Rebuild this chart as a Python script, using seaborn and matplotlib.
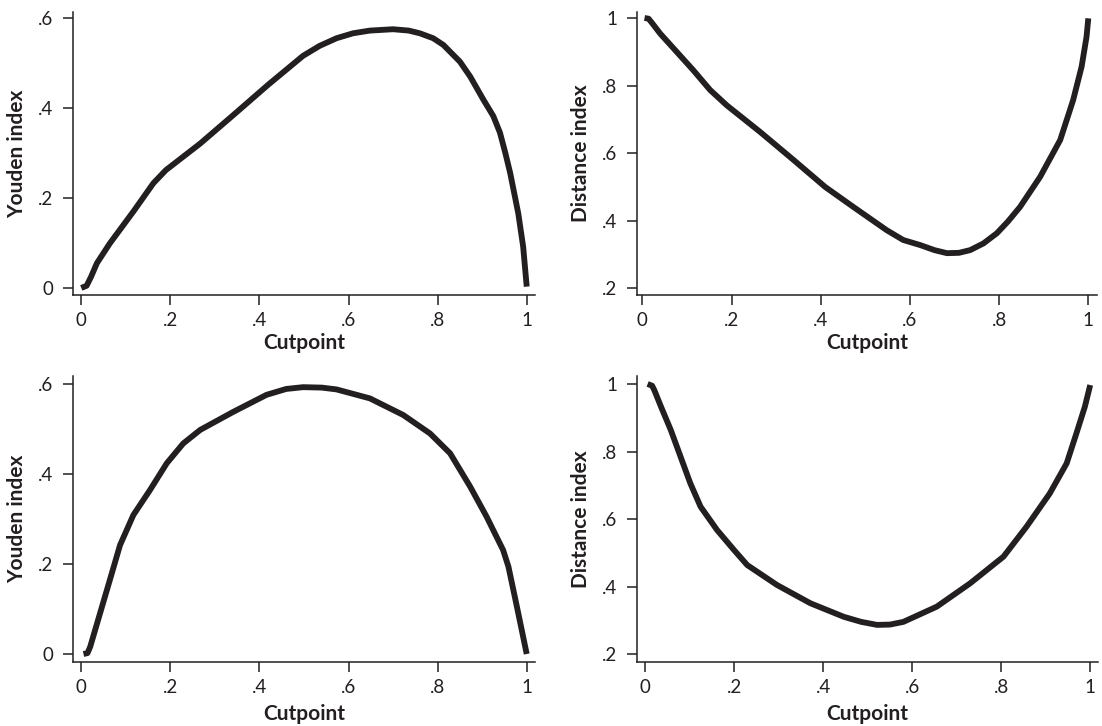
import matplotlib
matplotlib.use("Agg")
import matplotlib.pyplot as plt
import seaborn as sns
import pandas as pd

# --- Youden index vs cutpoint (upper panel) ---
cut_youden_a = [0.000, 0.012, 0.022, 0.035, 0.064, 0.117, 0.162, 0.190, 0.267, 0.341,
                0.420, 0.498, 0.535, 0.573, 0.610, 0.648, 0.700, 0.735, 0.760, 0.790,
                0.813, 0.850, 0.873, 0.903, 0.925, 0.940, 0.952, 0.963, 0.981, 0.992,
                1.000]
youden_a = [0.000, 0.005, 0.025, 0.055, 0.099, 0.170, 0.233, 0.262, 0.321, 0.384,
            0.452, 0.516, 0.538, 0.555, 0.566, 0.572, 0.575, 0.572, 0.566, 0.555,
            0.540, 0.503, 0.470, 0.418, 0.382, 0.345, 0.300, 0.255, 0.166, 0.092,
            0.003]

# --- Distance index vs cutpoint (upper panel) ---
cut_dist_a = [0.005, 0.014, 0.022, 0.040, 0.077, 0.114, 0.152, 0.189, 0.264, 0.339,
              0.410, 0.473, 0.548, 0.585, 0.623, 0.655, 0.683, 0.710, 0.735, 0.765,
              0.795, 0.820, 0.847, 0.892, 0.937, 0.966, 0.985, 0.996, 1.000]
dist_a = [1.000, 0.998, 0.985, 0.954, 0.900, 0.846, 0.787, 0.742, 0.663, 0.580,
          0.500, 0.441, 0.372, 0.343, 0.328, 0.313, 0.304, 0.305, 0.313, 0.333,
          0.363, 0.398, 0.441, 0.530, 0.639, 0.757, 0.856, 0.944, 0.999]

# --- Youden index vs cutpoint (lower panel) ---
cut_youden_b = [0.005, 0.014, 0.020, 0.042, 0.064, 0.087, 0.117, 0.154, 0.192, 0.229,
                0.267, 0.341, 0.416, 0.460, 0.498, 0.540, 0.573, 0.648, 0.723, 0.783,
                0.828, 0.873, 0.910, 0.947, 0.959, 0.978, 1.000]
youden_b = [0.000, 0.002, 0.016, 0.090, 0.164, 0.242, 0.309, 0.364, 0.424, 0.468,
            0.498, 0.538, 0.576, 0.589, 0.593, 0.592, 0.588, 0.568, 0.531, 0.490,
            0.446, 0.372, 0.305, 0.231, 0.194, 0.105, 0.000]

# --- Distance index vs cutpoint (lower panel) ---
cut_dist_b = [0.005, 0.015, 0.020, 0.035, 0.057, 0.079, 0.101, 0.124, 0.161, 0.199,
              0.229, 0.296, 0.371, 0.446, 0.485, 0.521, 0.550, 0.580, 0.655, 0.730,
              0.805, 0.857, 0.909, 0.947, 0.969, 0.988, 1.000]
dist_b = [1.000, 0.995, 0.982, 0.933, 0.864, 0.785, 0.706, 0.637, 0.568, 0.509,
          0.464, 0.405, 0.351, 0.311, 0.296, 0.287, 0.288, 0.296, 0.341, 0.410,
          0.489, 0.578, 0.676, 0.765, 0.854, 0.933, 0.997]

x_ticks = [0, 0.2, 0.4, 0.6, 0.8, 1.0]
x_ticklabels = ["0", ".2", ".4", ".6", ".8", "1"]
youden_ticks = [0, 0.2, 0.4, 0.6]
youden_ticklabels = ["0", ".2", ".4", ".6"]
dist_ticks = [0.2, 0.4, 0.6, 0.8, 1.0]
dist_ticklabels = [".2", ".4", ".6", ".8", "1"]

sns.set_theme(style="ticks")
plt.rcParams["font.family"] = ["Lato", "DejaVu Sans"]

INK = "#231f20"
W, H = 1102, 726
fig = plt.figure(figsize=(W / 100, H / 100), dpi=100)


def box(left, top, right, bottom):
    return [left / W, 1 - bottom / H, (right - left) / W, (bottom - top) / H]


panels = [
    dict(rect=box(73, 12, 535, 295), x=cut_youden_a, y=youden_a, ylabel="Youden index",
         yt=youden_ticks, ytl=youden_ticklabels, xlim=(-0.0186, 1.0186), ylim=(-0.0156, 0.6133),
         xlab_y=-0.136),
    dict(rect=box(637, 12, 1097, 295), x=cut_dist_a, y=dist_a, ylabel="Distance index",
         yt=dist_ticks, ytl=dist_ticklabels, xlim=(-0.0119, 1.0195), ylim=(0.1802, 1.0178),
         xlab_y=-0.136),
    dict(rect=box(73, 376, 535, 662), x=cut_youden_b, y=youden_b, ylabel="Youden index",
         yt=youden_ticks, ytl=youden_ticklabels, xlim=(-0.0186, 1.0186), ylim=(-0.0178, 0.6178),
         xlab_y=-0.147),
    dict(rect=box(637, 376, 1098, 662), x=cut_dist_b, y=dist_b, ylabel="Distance index",
         yt=dist_ticks, ytl=dist_ticklabels, xlim=(-0.0189, 1.0175), ylim=(0.1772, 1.0237),
         xlab_y=-0.147),
]

for p in panels:
    ax = fig.add_axes(p["rect"])
    df = pd.DataFrame({"Cutpoint": p["x"], "value": p["y"]})
    sns.lineplot(data=df, x="Cutpoint", y="value", ax=ax, color=INK, linewidth=4.2,
                 estimator=None, solid_joinstyle="round", solid_capstyle="butt")
    ax.set_xlim(*p["xlim"])
    ax.set_ylim(*p["ylim"])
    ax.set_xticks(x_ticks)
    ax.set_xticklabels(x_ticklabels)
    ax.set_yticks(p["yt"])
    ax.set_yticklabels(p["ytl"])
    for side in ("top", "right"):
        ax.spines[side].set_visible(False)
    for side in ("left", "bottom"):
        ax.spines[side].set_color(INK)
        ax.spines[side].set_linewidth(1.1)
    ax.tick_params(axis="both", direction="out", length=7, width=1.1, color=INK,
                   labelsize=13.5, labelcolor=INK)
    ax.tick_params(axis="x", pad=5)
    ax.tick_params(axis="y", pad=7)
    ax.set_xlabel("Cutpoint", fontsize=15, fontweight="bold", color=INK)
    ax.set_ylabel(p["ylabel"], fontsize=15, fontweight="bold", color=INK)
    ax.xaxis.set_label_coords(0.5, p["xlab_y"])
    ax.xaxis.label.set_va("top")
    ax.yaxis.set_label_coords(-0.10, 0.5)
    ax.set_facecolor("white")

fig.savefig("out.png", dpi=100, facecolor="white")
